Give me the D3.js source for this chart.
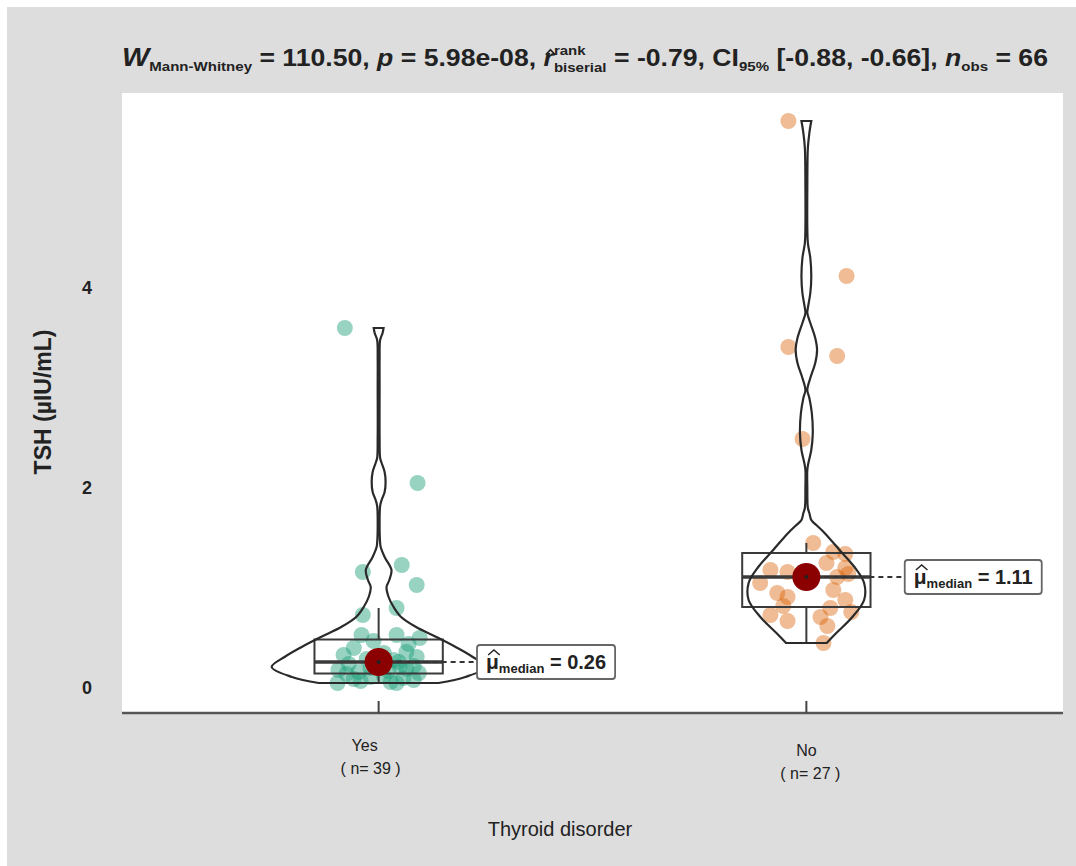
<!DOCTYPE html>
<html>
<head>
<meta charset="utf-8">
<script src="https://cdn.jsdelivr.net/npm/d3@7"></script>
<style>
  body { margin: 0; background: #fff; }
  text { font-family: "Liberation Sans", Arial, sans-serif; fill: #222; white-space: pre; }
</style>
</head>
<body>
<div id="chart"></div>
<script>
// ---- data ----
const categories = ["Yes", "No"];
const groupCounts = [39, 27];
const yTicks = [0, 2, 4];

const yesTsh = [3.60, 2.05, 1.23, 1.16, 1.03, 0.80, 0.73, 0.53, 0.53, 0.50,
                0.47, 0.44, 0.40, 0.36, 0.35, 0.33, 0.31, 0.29, 0.28, 0.26,
                0.24, 0.22, 0.21, 0.20, 0.19, 0.18, 0.17, 0.16, 0.15, 0.14,
                0.12, 0.11, 0.10, 0.09, 0.08, 0.07, 0.06, 0.05, 0.05];
const yesJitter = [-0.079, 0.091, 0.054, -0.037, 0.089, 0.042, -0.037, -0.040, 0.042, 0.096,
                   -0.012, 0.070, -0.058, 0.065, 0.012, -0.082, 0.089, -0.028, 0.035, 0.047,
                   -0.070, 0.082, 0.049, -0.019, 0.065, -0.094, 0.023, -0.047, 0.094, -0.075,
                   0.012, -0.019, 0.058, -0.058, 0.082, -0.042, 0.028, -0.096, 0.042];

const noTsh = [5.67, 4.12, 3.41, 3.32, 2.49, 1.45, 1.36, 1.34, 1.25, 1.20,
               1.18, 1.16, 1.14, 1.11, 1.05, 0.98, 0.95, 0.91, 0.88, 0.82,
               0.80, 0.76, 0.73, 0.71, 0.67, 0.62, 0.45];
const noJitter = [-0.042, 0.094, -0.042, 0.072, -0.009, 0.016, 0.063, 0.091, 0.047, 0.091,
                  -0.084, -0.044, 0.098, 0.072, -0.108, 0.063, -0.068, -0.044, 0.091, -0.054,
                  0.056, 0.105, -0.084, 0.033, -0.044, 0.049, 0.040];

// violin outlines: TSH value and relative density (1 = widest)
const yesViolinTsh = [0.05, 0.11, 0.21, 0.31, 0.41, 0.51, 0.61, 0.71, 0.81, 0.91,
                      1.01, 1.08, 1.18, 1.31, 1.41, 1.45, 1.60, 1.82, 1.88, 1.96,
                      2.06, 2.16, 2.25, 2.30, 2.50, 3.00, 3.30, 3.48, 3.55, 3.60];
const yesViolinDensity = [0.56, 0.81, 1.00, 0.88, 0.72, 0.54, 0.35, 0.21, 0.14, 0.093,
                          0.074, 0.10, 0.12, 0.056, 0.019, 0.014, 0.009, 0.014, 0.028, 0.056,
                          0.065, 0.056, 0.028, 0.014, 0.009, 0.009, 0.009, 0.014, 0.037, 0.046];

const noViolinTsh = [0.45, 0.55, 0.71, 0.88, 1.05, 1.21, 1.38, 1.55, 1.63, 1.68,
                     1.75, 1.80, 2.00, 2.18, 2.25, 2.38, 2.55, 2.75, 2.90, 2.98,
                     3.10, 3.25, 3.38, 3.50, 3.65, 3.75, 3.80, 3.95, 4.11, 4.30,
                     4.45, 4.60, 5.00, 5.40, 5.55, 5.67];
const noViolinDensity = [0.19, 0.28, 0.43, 0.54, 0.54, 0.45, 0.31, 0.17, 0.093, 0.046,
                         0.028, 0.014, 0.009, 0.009, 0.019, 0.046, 0.060, 0.051, 0.028, 0.009,
                         0.037, 0.083, 0.10, 0.083, 0.037, 0.009, 0.014, 0.037, 0.046, 0.037,
                         0.014, 0.009, 0.009, 0.014, 0.028, 0.046];

const statParts = [
  {t: "W", italic: true, size: 25},
  {t: "Mann-Whitney", size: 13, dy: 5},
  {t: " = 110.50, "},
  {t: "p", italic: true},
  {t: " = 5.98e-08, "},
  {t: "r", italic: true, hat: true},
  {t: "rank", size: 13, dy: -11, stack: true},
  {t: "biserial", size: 13, dy: 6},
  {t: " = -0.79, CI"},
  {t: "95%", size: 13, dy: 5},
  {t: " [-0.88, -0.66], "},
  {t: "n", italic: true},
  {t: "obs", size: 13, dy: 5},
  {t: " = 66"}
];

const groups = [
  {key: "Yes", tsh: yesTsh, jitter: yesJitter, vTsh: yesViolinTsh, vDen: yesViolinDensity, color: "#1b9e77", op: 0.45},
  {key: "No", tsh: noTsh, jitter: noJitter, vTsh: noViolinTsh, vDen: noViolinDensity, color: "#d95f02", op: 0.42}
];

// ---- layout ----
const width = 1076, height = 866;
const panel = {left: 122, top: 93, right: 1063, bottom: 713};

const svg = d3.select("#chart").append("svg")
  .attr("width", width).attr("height", height);

svg.append("rect").attr("width", width).attr("height", height).attr("fill", "#fff");
svg.append("rect").attr("x", 7).attr("y", 7)
  .attr("width", width - 7).attr("height", height - 7).attr("fill", "#dddddd");
svg.append("rect").attr("x", panel.left).attr("y", panel.top)
  .attr("width", panel.right - panel.left).attr("height", panel.bottom - panel.top)
  .attr("fill", "#fff");

let x = d3.scalePoint().domain(categories).range([panel.left, panel.right]).padding(0.6);
let y = d3.scaleLinear().domain([-0.25, 5.95]).range([panel.bottom, panel.top]);
let step = x.step();
let w = d3.scaleLinear().domain([0, 1]).range([0, 0.25 * step]);

function boxStats(vals) {
  let s = vals.slice().sort(d3.ascending);
  let q1 = d3.quantileSorted(s, 0.25), med = d3.quantileSorted(s, 0.5), q3 = d3.quantileSorted(s, 0.75);
  let iqr = q3 - q1;
  return {
    q1: q1, med: med, q3: q3,
    lo: d3.min(s.filter(v => v >= q1 - 1.5 * iqr)),
    hi: d3.max(s.filter(v => v <= q3 + 1.5 * iqr))
  };
}

// rich text: pieces laid one after another, sub/superscripts by dy
function drawRich(g, parts, x0, y0, base) {
  let cx = x0, held = 0;
  parts.forEach(p => {
    let t = g.append("text")
      .attr("x", cx).attr("y", y0 + (p.dy || 0))
      .style("font-size", (p.size || base) + "px")
      .style("font-weight", "bold")
      .style("font-style", p.italic ? "italic" : "normal")
      .text(p.t);
    let tw = t.node().getComputedTextLength();
    if (p.hat) {
      let hx = cx + tw / 2 + 1.5, hy = y0 - (p.hatY || 0.62 * base);
      g.append("path")
        .attr("d", `M${hx - tw * 0.45},${hy + 3}L${hx},${hy - 2}L${hx + tw * 0.45},${hy + 3}`)
        .attr("fill", "none").attr("stroke", "#222").attr("stroke-width", 1.4);
    }
    if (p.stack) { held = tw; }
    else { cx += Math.max(tw, held); held = 0; }
  });
  return cx - x0;
}

// title, stretched to run across the panel like the original
let tg = svg.append("g");
let titleW = drawRich(tg.append("g"), statParts, 0, 66, 23);
tg.attr("transform", `translate(122,0) scale(${926 / titleW},1)`);

// points
groups.forEach(gr => {
  svg.append("g").selectAll("circle")
    .data(gr.tsh)
    .enter().append("circle")
    .attr("cx", (d, i) => x(gr.key) + gr.jitter[i] * step)
    .attr("cy", d => y(d))
    .attr("r", 8)
    .attr("fill", gr.color)
    .attr("fill-opacity", gr.op);
});

// boxplots
groups.forEach(gr => {
  let b = boxStats(gr.tsh), cx = x(gr.key), hw = 0.15 * step;
  let g = svg.append("g").attr("stroke", "#3a3a3a").attr("fill", "none");
  g.append("line").attr("x1", cx).attr("x2", cx).attr("y1", y(b.q3)).attr("y2", y(b.hi)).attr("stroke-width", 2);
  g.append("line").attr("x1", cx).attr("x2", cx).attr("y1", y(b.q1)).attr("y2", y(b.lo)).attr("stroke-width", 2);
  g.append("rect").attr("x", cx - hw).attr("y", y(b.q3))
    .attr("width", 2 * hw).attr("height", y(b.q1) - y(b.q3)).attr("stroke-width", 2);
  g.append("line").attr("x1", cx - hw).attr("x2", cx + hw)
    .attr("y1", y(b.med)).attr("y2", y(b.med)).attr("stroke-width", 3.6);
});

// violins
groups.forEach(gr => {
  let cx = x(gr.key);
  let area = d3.area()
    .curve(d3.curveCatmullRom)
    .y(d => y(d[0]))
    .x0(d => cx - w(d[1]))
    .x1(d => cx + w(d[1]));
  svg.append("path")
    .datum(d3.zip(gr.vTsh, gr.vDen))
    .attr("d", area)
    .attr("fill", "none")
    .attr("stroke", "#2a2a2a")
    .attr("stroke-width", 2.2);
});

// medians: dot, dashed leader and label
let fmt = d3.format(".2f");
groups.forEach(gr => {
  let med = d3.median(gr.tsh), cx = x(gr.key), cy = y(med);
  let lx = cx + 0.23 * step;
  svg.append("line").attr("x1", cx).attr("x2", lx).attr("y1", cy).attr("y2", cy)
    .attr("stroke", "#333").attr("stroke-width", 2).attr("stroke-dasharray", "5,4");
  svg.append("circle").attr("cx", cx).attr("cy", cy).attr("r", 14).attr("fill", "#8b0000");
  svg.append("circle").attr("cx", cx).attr("cy", cy).attr("r", 2).attr("fill", "#222");

  let lg = svg.append("g");
  let box = lg.append("rect");
  let tgl = lg.append("g");
  let lw = drawRich(tgl, [
    {t: "\u03bc", hat: true, hatY: 17, size: 21},
    {t: "median", size: 13, dy: 4},
    {t: " = " + fmt(med)}
  ], lx + 9, cy + 7, 20);
  box.attr("x", lx).attr("y", cy - 17).attr("width", lw + 18).attr("height", 34)
    .attr("rx", 3).attr("fill", "#fff").attr("stroke", "#666").attr("stroke-width", 1.8);
});

// x axis
svg.append("line").attr("x1", panel.left).attr("x2", panel.right)
  .attr("y1", panel.bottom).attr("y2", panel.bottom)
  .attr("stroke", "#555").attr("stroke-width", 2.5);
svg.append("g").selectAll("line").data(categories).enter().append("line")
  .attr("x1", d => x(d)).attr("x2", d => x(d))
  .attr("y1", panel.bottom).attr("y2", panel.bottom - 12)
  .attr("stroke", "#444").attr("stroke-width", 2);

let xl = svg.append("g").selectAll("g").data(categories).enter().append("g");
xl.append("text")
  .attr("x", (d, i) => x(d) - (i === 0 ? 14 : 0))
  .attr("y", (d, i) => i === 0 ? 751 : 756)
  .attr("text-anchor", "middle").style("font-size", "16px")
  .text(d => d);
xl.append("text")
  .attr("x", (d, i) => x(d) - (i === 0 ? 8 : -4))
  .attr("y", (d, i) => i === 0 ? 774 : 779)
  .attr("text-anchor", "middle").style("font-size", "16px")
  .text((d, i) => "( n= " + groupCounts[i] + " )");

svg.append("text").attr("x", 560).attr("y", 836)
  .attr("text-anchor", "middle").style("font-size", "20px")
  .text("Thyroid disorder");

// y axis
svg.append("g").selectAll("text").data(yTicks).enter().append("text")
  .attr("x", 92).attr("y", d => y(d) + 6)
  .attr("text-anchor", "end").style("font-size", "18px").style("font-weight", "bold")
  .text(d => d);

svg.append("text")
  .attr("transform", "translate(51,402) rotate(-90)")
  .attr("text-anchor", "middle").style("font-size", "23px").style("font-weight", "bold")
  .text("TSH (\u00b5IU/mL)");
</script>
</body>
</html>
